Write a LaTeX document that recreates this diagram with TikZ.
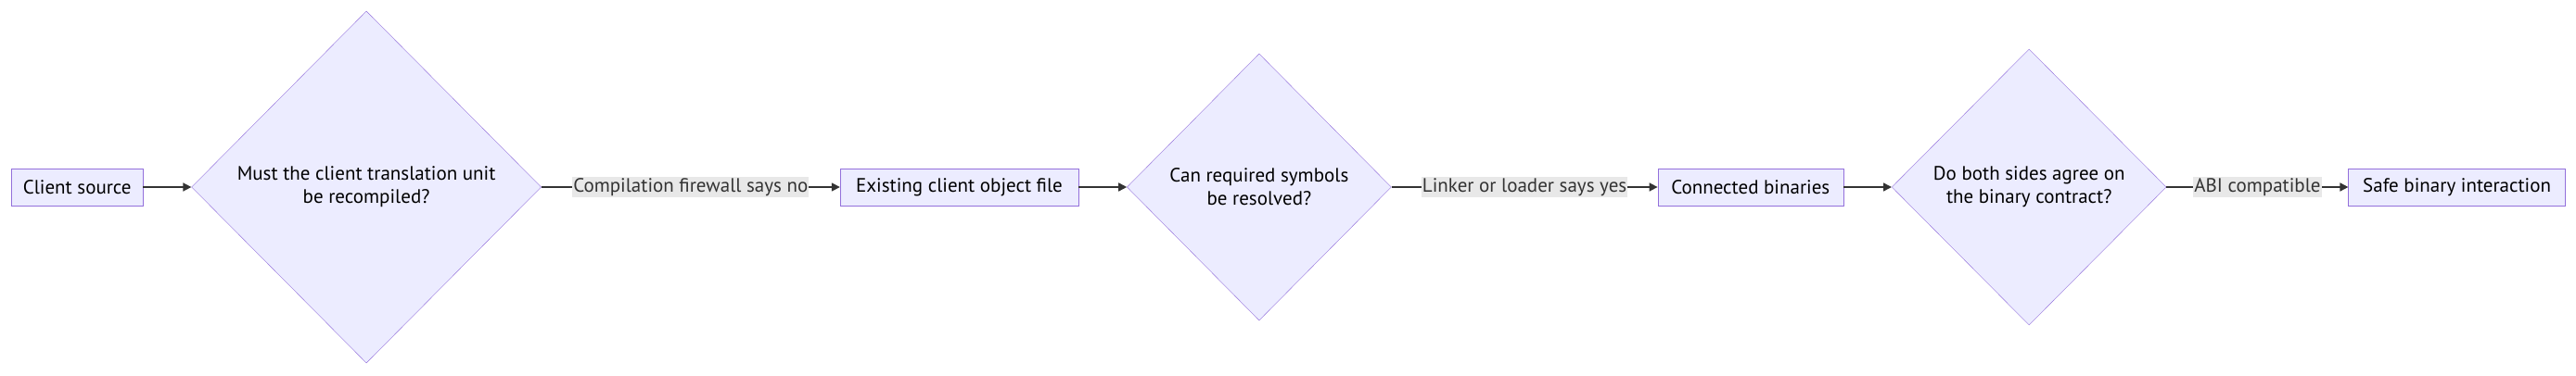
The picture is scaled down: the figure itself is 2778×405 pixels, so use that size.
\documentclass[tikz,border=0pt]{standalone}
\usepackage{fontspec}
\setmainfont{PT Sans}
\usepackage{tikz}
\usetikzlibrary{positioning}
\usetikzlibrary{shapes.geometric}
\usetikzlibrary{arrows.meta}
\definecolor{boxfill}{HTML}{ECECFF}
\definecolor{boxline}{HTML}{9370DB}
\definecolor{edgeline}{HTML}{333333}
\definecolor{labelbg}{HTML}{E8E8E8}
\tikzset{
  stage/.style={rectangle, draw=boxline, fill=boxfill, minimum height=40pt, inner sep=4pt, font=\fontsize{21}{25}\selectfont},
  check/.style={diamond, draw=boxline, fill=boxfill, inner sep=0pt, align=center, font=\fontsize{21}{25}\selectfont},
  flow/.style={edgeline, line width=1.6pt, -{Triangle[length=9pt,width=9pt]}},
  tag/.style={fill=labelbg, inner sep=1pt, font=\fontsize{21}{25}\selectfont}
}
\begin{document}
\begin{tikzpicture}[x=1pt, y=1pt, node distance=52pt]
\useasboundingbox (0,0) rectangle (2778,405);

\node[stage, minimum width=142pt, anchor=west] (src) at (12,203) {Client source};
\node[check, minimum width=377pt, minimum height=380pt, right=of src] (recomp) {Must the client translation unit\\be recompiled?};
\node[stage, minimum width=257pt, right=322pt of recomp] (obj) {Existing client object file};
\node[check, minimum width=285pt, minimum height=288pt, right=of obj] (resolve) {Can required symbols\\be resolved?};
\node[stage, minimum width=200pt, right=287pt of resolve] (bins) {Connected binaries};
\node[check, minimum width=296pt, minimum height=298pt, right=of bins] (agree) {Do both sides agree on\\the binary contract?};
\node[stage, minimum width=234pt, right=196pt of agree] (safe) {Safe binary interaction};

\draw[flow] (src) -- (recomp);
\draw[flow] (recomp) -- node[tag] {Compilation firewall says no} (obj);
\draw[flow] (obj) -- (resolve);
\draw[flow] (resolve) -- node[tag] {Linker or loader says yes} (bins);
\draw[flow] (bins) -- (agree);
\draw[flow] (agree) -- node[tag] {ABI compatible} (safe);
\end{tikzpicture}
\end{document}
